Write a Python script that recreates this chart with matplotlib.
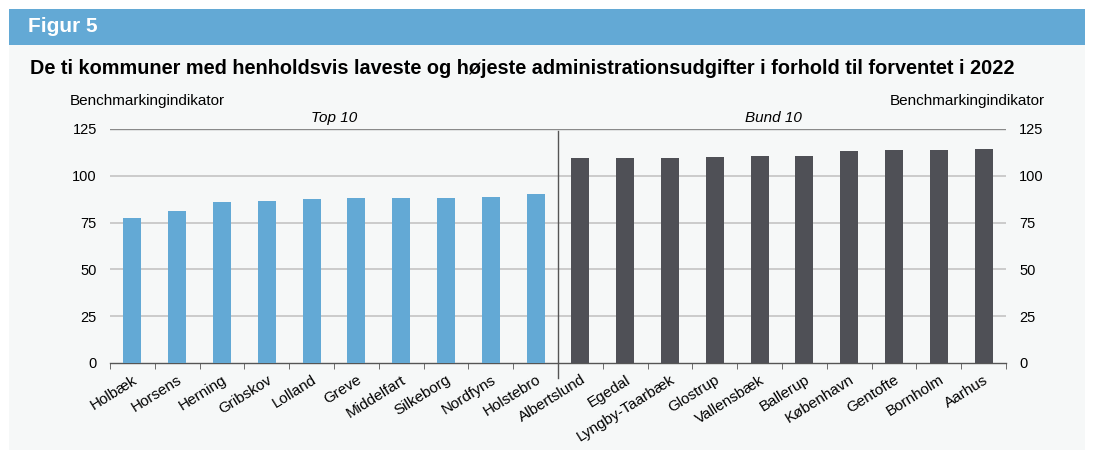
import matplotlib.pyplot as plt
from matplotlib.patches import Rectangle

plt.rcParams['font.family'] = ['Liberation Sans', 'DejaVu Sans']

# data
top_names = ['Holbæk', 'Horsens', 'Herning', 'Gribskov', 'Lolland', 'Greve',
             'Middelfart', 'Silkeborg', 'Nordfyns', 'Holstebro']
top_values = [77.3, 81.4, 85.9, 86.8, 87.5, 88.0, 88.0, 88.2, 88.7, 90.4]
bund_names = ['Albertslund', 'Egedal', 'Lyngby-Taarbæk', 'Glostrup', 'Vallensbæk',
              'Ballerup', 'København', 'Gentofte', 'Bornholm', 'Aarhus']
bund_values = [109.6, 109.6, 109.6, 110.2, 110.7, 110.7, 113.4, 114.0, 114.0, 114.5]
yticks = [0, 25, 50, 75, 100, 125]

blue = '#63a9d5'
dark = '#4f5056'
panel = '#f6f8f8'

W, H = 1095, 450
fig = plt.figure(figsize=(W / 100, H / 100), dpi=100)
fig.patch.set_facecolor('white')

# panel background + header band
fig.patches.append(Rectangle((9 / W, 0), 1076 / W, 1 - 9 / H, transform=fig.transFigure,
                             facecolor=panel, edgecolor='none', zorder=-10))
fig.patches.append(Rectangle((9 / W, 1 - 45 / H), 1076 / W, 36 / H, transform=fig.transFigure,
                             facecolor=blue, edgecolor='none', zorder=-9))
fig.text(28 / W, 1 - 27 / H, 'Figur 5', color='white', fontsize=15, fontweight='bold',
         va='center', ha='left')
fig.text(30 / W, 1 - 68 / H,
         'De ti kommuner med henholdsvis laveste og højeste administrationsudgifter i forhold til forventet i 2022',
         fontsize=14.3, fontweight='bold', va='center', ha='left')

ax = fig.add_axes([110 / W, 1 - 363 / H, 896 / W, 234 / H])
ax.set_facecolor('none')

names = top_names + bund_names
x = list(range(len(names)))
ax.bar(x[:10], top_values, width=0.4, color=blue, zorder=3)
ax.bar(x[10:], bund_values, width=0.4, color=dark, zorder=3)

ax.set_xlim(-0.5, len(names) - 0.5)
ax.set_ylim(0, 125)
ax.set_yticks(yticks)
for v in yticks[1:-1]:
    ax.axhline(v, color='#c8c8c8', lw=1.3, zorder=1)
ax.axhline(125, color='#8a8a8a', lw=1.0, zorder=1)

for s in ['top', 'right', 'left']:
    ax.spines[s].set_visible(False)
ax.spines['bottom'].set_color('#555555')
ax.spines['bottom'].set_linewidth(1.0)

ax.tick_params(axis='y', length=0, labelsize=10.5, pad=9.5)
ax.tick_params(axis='y', which='both', labelright=True, right=False)
ax.set_xticks([i - 0.5 for i in range(len(names) + 1)], minor=True)
ax.tick_params(axis='x', which='minor', length=4, color='#555555')
ax.set_xticks(x)
ax.set_xticklabels(names, rotation=32, ha='right', rotation_mode='anchor', fontsize=11)
ax.tick_params(axis='x', which='major', length=0, pad=7)

# divider between the two groups
ax.plot([9.5, 9.5], [-8, 124], color='#555555', lw=1.0, clip_on=False, zorder=4)

ax.text(4.5, 127, 'Top 10', style='italic', fontsize=11, ha='center', va='bottom')
ax.text(14.3, 127, 'Bund 10', style='italic', fontsize=11, ha='center', va='bottom')

fig.text(70 / W, 1 - 101 / H, 'Benchmarkingindikator', fontsize=11, ha='left', va='center')
fig.text(1045 / W, 1 - 101 / H, 'Benchmarkingindikator', fontsize=11, ha='right', va='center')

fig.savefig('out.png', dpi=100, facecolor=fig.get_facecolor())
